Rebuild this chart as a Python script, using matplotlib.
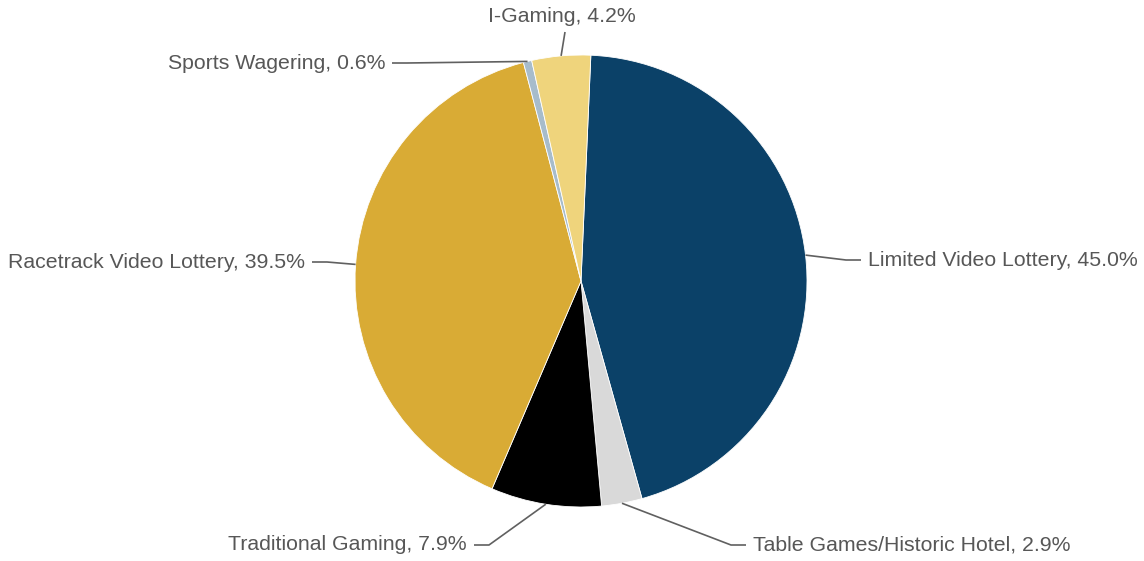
import numpy as np
import matplotlib
matplotlib.use("Agg")
import matplotlib.pyplot as plt

# Gaming revenue share by category
categories = [
    "Limited Video Lottery",
    "Table Games/Historic Hotel",
    "Traditional Gaming",
    "Racetrack Video Lottery",
    "Sports Wagering",
    "I-Gaming",
]
shares = [45.0, 2.9, 7.9, 39.5, 0.6, 4.2]
colors = ["#0b4168", "#d9d9d9", "#000000", "#d9ab35", "#a7bccb", "#efd47c"]

W, H = 1144, 561
plt.rcParams["font.family"] = ["Liberation Sans", "DejaVu Sans"]

fig = plt.figure(figsize=(W / 100, H / 100), dpi=100)
ax = fig.add_axes([0, 0, 1, 1])

cx, cy, r = 581, H - 281, 226
start = 87.5
wedges, _ = ax.pie(
    shares, colors=colors, startangle=start, counterclock=False,
    radius=r, center=(cx, cy), frame=True,
    wedgeprops=dict(edgecolor="white", linewidth=0.6),
)
ax.set_xlim(0, W)
ax.set_ylim(0, H)
ax.set_aspect("equal")
ax.axis("off")

# label anchor (pixel coords from top-left), alignment
label_pos = [
    (868, 260, "left"),
    (753, 545, "left"),
    (467, 545, "right"),
    (305, 262, "right"),
    (385, 63, "right"),
    (562, 16, "center"),
]

text_color = "#575757"
line_color = "#606060"
for w, name, val, (lx, ly, ha) in zip(wedges, categories, shares, label_pos):
    mid = np.deg2rad((w.theta1 + w.theta2) / 2)
    ex, ey = cx + r * np.cos(mid), cy + r * np.sin(mid)
    ty = H - ly
    if ha == "left":
        end = (lx - 7, ty)
        elbow = (lx - 22, ty)
    elif ha == "right":
        end = (lx + 7, ty)
        elbow = (lx + 22, ty)
    else:
        end = (lx + 3, ty - 16)
        elbow = end
    xs = [ex, elbow[0], end[0]]
    ys = [ey, elbow[1], end[1]]
    ax.plot(xs, ys, color=line_color, lw=1.2, solid_capstyle="butt", zorder=1)
    ax.text(lx, ty, f"{name}, {val:.1f}%", ha=ha, va="center",
            fontsize=15.3, color=text_color)

fig.savefig("out.png", dpi=100)
